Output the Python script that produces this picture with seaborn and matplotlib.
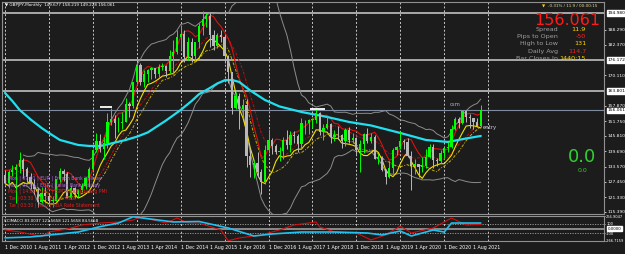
import numpy as np
import pandas as pd
import matplotlib
matplotlib.use("Agg")
import matplotlib.pyplot as plt
import seaborn as sns
from matplotlib.transforms import blended_transform_factory

# ---------------- data ----------------
months = pd.date_range("2010-12-01", "2021-10-01", freq="MS")
O = [130.0, 126.9, 131.4, 132.0, 133.4, 136.2, 132.7, 129.5, 126.5, 124.6, 119.3, 122.8,
     121.7, 119.6, 120.0, 128.5, 131.7, 130.5, 120.8, 125.0, 122.6, 124.0, 125.8, 128.8,
     132.5, 140.0, 143.6, 140.5, 143.0, 151.5, 152.5, 150.8, 151.0, 151.5, 158.5, 157.8,
     167.3, 174.3, 167.4, 170.7, 172.0, 172.9, 170.5, 173.4, 173.6, 171.9, 177.8, 179.5,
     185.2, 186.7, 177.3, 183.3, 177.7, 183.3, 189.6, 192.4, 193.7, 186.1, 181.6, 186.0,
     185.4, 177.6, 171.4, 156.8, 161.7, 156.5, 158.3, 137.6, 134.2, 135.0, 131.5, 127.5,
     140.1, 144.1, 141.9, 139.5, 139.8, 144.3, 142.3, 146.1, 145.7, 142.7, 150.8, 150.8,
     152.1, 152.3, 154.9, 147.3, 149.1, 150.5, 145.5, 146.3, 146.0, 143.9, 148.1, 144.2,
     144.9, 140.0, 142.7, 146.7, 143.9, 145.4, 136.5, 137.5, 132.2, 129.3, 132.9, 140.0,
     141.5, 143.9, 143.5, 137.6, 133.6, 134.7, 133.3, 133.7, 137.4, 141.3, 136.3, 135.6,
     139.0, 141.1, 141.2, 148.6, 152.6, 150.9, 155.6, 153.5, 152.8, 151.4, 149.677]
H = [132.0, 132.2, 134.0, 134.5, 139.2, 137.0, 133.2, 131.0, 128.5, 125.5, 125.5, 125.5,
     122.5, 121.8, 128.5, 133.0, 132.5, 131.2, 126.0, 125.5, 124.5, 127.0, 129.2, 133.5,
     140.5, 147.0, 146.5, 145.5, 155.0, 157.0, 154.0, 153.5, 155.5, 161.0, 159.5, 167.5,
     174.8, 175.0, 172.0, 172.5, 173.5, 173.0, 174.5, 175.0, 174.3, 180.0, 184.0, 188.0,
     190.0, 188.0, 185.5, 185.0, 183.5, 191.0, 195.9, 194.8, 195.3, 188.0, 187.0, 188.0,
     186.2, 178.0, 171.5, 163.5, 163.0, 160.5, 160.5, 141.0, 136.0, 139.5, 132.5, 142.0,
     148.5, 145.0, 142.5, 141.5, 145.5, 148.0, 147.8, 147.7, 146.5, 152.8, 152.0, 152.5,
     153.0, 156.6, 155.5, 150.5, 153.8, 151.0, 148.0, 149.7, 146.5, 149.0, 149.5, 147.0,
     145.5, 144.0, 147.0, 148.8, 147.0, 146.3, 138.5, 137.8, 132.5, 135.6, 140.8, 141.6,
     147.9, 144.5, 144.9, 139.8, 136.5, 134.7, 137.5, 140.5, 142.5, 142.5, 137.0, 140.0,
     141.5, 143.5, 150.0, 153.4, 153.2, 155.5, 156.1, 154.5, 153.0, 153.0, 158.219]
L = [126.8, 125.0, 129.8, 119.0, 131.0, 129.0, 127.5, 124.5, 122.5, 117.4, 118.8, 119.5,
     118.8, 117.3, 119.8, 127.5, 127.8, 121.0, 120.6, 120.8, 121.5, 123.5, 124.5, 125.5,
     131.5, 139.5, 139.5, 136.5, 141.0, 150.0, 145.0, 147.5, 148.5, 151.5, 153.5, 157.0,
     166.5, 166.0, 165.5, 167.5, 168.5, 169.0, 169.5, 172.0, 169.5, 171.0, 170.5, 178.5,
     180.0, 175.5, 176.0, 175.5, 175.5, 181.0, 186.0, 189.5, 181.5, 180.0, 181.0, 183.5,
     175.0, 166.8, 154.5, 156.5, 148.5, 153.0, 133.3, 129.5, 129.0, 129.2, 122.4, 126.5,
     139.0, 138.5, 138.5, 135.6, 136.5, 140.5, 139.3, 143.0, 139.3, 140.5, 146.5, 146.5,
     149.0, 151.0, 146.0, 144.0, 148.5, 142.8, 143.8, 144.5, 140.8, 141.8, 142.8, 143.0,
     138.5, 131.5, 139.0, 142.8, 143.0, 136.5, 134.5, 131.6, 126.5, 129.0, 131.0, 138.0,
     140.5, 140.5, 137.5, 124.0, 130.5, 129.3, 131.5, 133.0, 137.0, 133.0, 133.8, 135.0,
     137.0, 139.5, 140.9, 148.2, 149.0, 150.5, 151.4, 149.0, 148.5, 149.2, 149.228]
C = [126.9, 131.4, 132.0, 133.4, 136.2, 132.7, 129.5, 126.5, 124.6, 119.3, 122.8, 121.7,
     119.6, 120.0, 128.5, 131.7, 130.5, 120.8, 125.0, 122.6, 124.0, 125.8, 128.8, 132.5,
     140.0, 143.6, 140.5, 143.0, 151.5, 152.5, 150.8, 151.0, 151.5, 158.5, 157.8, 167.3,
     174.3, 167.4, 170.7, 172.0, 172.9, 170.5, 173.4, 173.6, 171.9, 177.8, 179.5, 185.2,
     186.7, 177.3, 183.3, 177.7, 183.3, 189.6, 192.4, 193.7, 186.1, 181.6, 186.0, 185.4,
     177.6, 171.4, 156.8, 161.7, 156.5, 158.3, 137.6, 134.2, 135.0, 131.5, 127.5, 140.1,
     144.1, 141.9, 139.5, 139.8, 144.3, 142.3, 146.1, 145.7, 142.7, 150.8, 150.8, 152.1,
     152.3, 154.9, 147.3, 149.1, 150.5, 145.5, 146.3, 146.0, 143.9, 148.1, 144.2, 144.9,
     140.0, 142.7, 146.7, 143.9, 145.4, 136.5, 137.5, 132.2, 129.3, 132.9, 140.0, 141.5,
     143.9, 143.5, 137.6, 133.6, 134.7, 133.3, 133.7, 137.4, 141.3, 136.3, 135.6, 139.0,
     141.1, 141.2, 148.6, 152.6, 150.9, 155.6, 153.5, 152.8, 151.4, 149.7, 156.061]

# long moving average (cyan), read at sparse months
ma_idx = [0, 2, 4, 7, 10, 12, 15, 20, 23, 26, 29, 33, 36, 39, 44, 48, 51, 53, 56, 58, 60, 62, 64, 67, 71, 75,
          81, 88, 94, 100, 108, 115, 121, 126, 130]
ma_val = [163.0, 159.8, 156.2, 152.4, 149.0, 147.0, 144.2, 142.2, 141.8, 141.8, 142.8, 144.2, 145.5, 147.2,
          152.0, 156.2, 159.8, 162.5, 165.0, 166.8, 168.0, 168.2, 167.4, 164.0, 160.2, 157.6,
          155.4, 153.4, 151.4, 150.0, 147.0, 144.2, 143.4, 144.8, 145.8]

# CCI sub-window (two series), read at sparse months
cci1_idx = [0, 7, 15, 20, 26, 31, 35, 40, 44, 46, 53, 61, 68, 73, 81, 90, 99, 103, 108, 111, 114, 117, 120, 122, 126, 130]
cci1_val = [-200, -180, -117, -75, 40, 117, 250, 200, 160, 139, 150, 11, -160, -117, -75, -75, -96, -138, -53, -160,
            -96, -32, -75, 117, 117, 117]
cci2_idx = [0, 4, 8, 10, 12, 17, 21, 26, 31, 35, 37, 44, 47, 50, 53, 59, 61, 64, 70, 75, 79, 85, 86, 90, 96, 100,
            104, 108, 111, 117, 121, 122, 126, 130]
cci2_val = [-32, -74, -138, -181, -74, -11, 75, 117, 139, 181, 245, 117, 224, 117, 117, -32, -260, -202, -138, -32,
            75, 139, 32, -74, -96, -245, -138, 53, -96, 11, 181, 224, 75, 84]

price_ticks = [188.290, 182.370, 170.110, 157.870, 151.750, 145.810, 139.690, 133.570, 127.450, 121.330, 115.390]
level_lines = [194.980, 176.172, 163.801]
bid = 156.061
time_idx = list(range(0, 131, 8))
time_labels = ["1 " + m.strftime("%b %Y") for m in months[time_idx]]

events = ["Mon | 07:01 | EUR | French Bank Holiday",
          "Mon | 07:03 | EUR | Italian Bank Holiday",
          "Mon | 14:00 | USD | ISM Manufacturing PMI",
          "Tue | 03:30 | AUD | Cash Rate",
          "Tue | 03:30 | AUD | RBA Rate Statement"]
info_labels = ["Spread", "Pips to Open", "High to Low", "Daily Avg", "Bar Closes In"]
info_values = ["11.9", "-50", "131", "114.7", "1440:15"]

# ---------------- style ----------------
sns.set_theme(style="dark")
plt.rcParams['font.family'] = ['DejaVu Sans']
BG = '#1c1c1c'
BULL = '#00ff00'
BEAR = '#b8b8b8'
GRID = '#c8c8c8'
W, Hh = 625, 254

fig = plt.figure(figsize=(6.25, 2.54), dpi=100, facecolor=BG)


def rect(x0, y0, x1, y1):
    return [x0 / W, 1 - y1 / Hh, (x1 - x0) / W, (y1 - y0) / Hh]


ax = fig.add_axes(rect(2, 2, 604, 214))
ax2 = fig.add_axes(rect(2, 216, 604, 241))


def px_to_i(px):
    return (px - 5) / 3.66


for a in (ax, ax2):
    a.set_facecolor(BG)
    a.set_xlim(px_to_i(2), px_to_i(604))
    for s in a.spines.values():
        s.set_color('#909090')
        s.set_linewidth(0.8)
    a.grid(False)
    for gi in range(0, 140, 12):
        a.axvline(gi, color=GRID, lw=0.7, ls=(0, (2, 2)), zorder=1)

ax.set_ylim(115.39 - 2 * 0.4, 194.98 + 11 * 0.4)

df = pd.DataFrame(dict(i=np.arange(len(C)), O=O, H=H, L=L, C=C))
up = df.C >= df.O
cols = np.where(up, BULL, BEAR)

# indicator lines (drawn under candles)
roll = df.assign(
    mid=df.C.rolling(20, min_periods=6).mean(),
    sd=df.C.rolling(20, min_periods=6).std(),
    rh=df.H.rolling(4, min_periods=1).mean(),
    rl=df.L.rolling(4, min_periods=1).mean(),
    rc=df.C.rolling(10, min_periods=1).mean(),
    rl2=df.L.rolling(8, min_periods=1).mean(),
)
roll['up'] = roll.mid + 2 * roll.sd
roll['dn'] = roll.mid - 2 * roll.sd
sns.lineplot(data=roll, x='i', y='up', ax=ax, color='#8c8c8c', lw=0.7, zorder=2)
sns.lineplot(data=roll, x='i', y='dn', ax=ax, color='#8c8c8c', lw=0.7, zorder=2)
sns.lineplot(data=roll, x='i', y='rc', ax=ax, color='#c01010', lw=0.7, ls=(0, (3, 1.5, 1, 1.5)), zorder=3)
sns.lineplot(data=roll, x='i', y='rl2', ax=ax, color='#c8b000', lw=0.7, ls=(0, (3, 1.5, 1, 1.5)), zorder=3)
sns.lineplot(data=roll, x='i', y='rh', ax=ax, color='#e01010', lw=0.8, zorder=3)
sns.lineplot(data=roll, x='i', y='rl', ax=ax, color='#f0e000', lw=0.8, zorder=3)
sns.lineplot(x=ma_idx, y=ma_val, ax=ax, color='#20e0f0', lw=1.6, zorder=4)

ax.vlines(df.i, df.L, df.H, colors=cols, lw=0.7, zorder=5)
ax.bar(df.i, (df.C - df.O).abs().clip(lower=0.35), bottom=np.minimum(df.O, df.C), width=0.62,
       color=cols, lw=0, zorder=6)

for lv in level_lines:
    ax.axhline(lv, color='#a8a8a8', lw=1.4, zorder=1)
ax.axhline(bid, color='#7f8ca0', lw=0.8, zorder=1)
ax.hlines(157.4, px_to_i(100), px_to_i(112), color='white', lw=1.3, zorder=7)
ax.hlines(156.6, px_to_i(310), px_to_i(325), color='white', lw=1.3, zorder=7)

# price scale
ax.yaxis.tick_right()
ax.set_yticks(price_ticks)
ax.set_yticklabels([f"{v:.3f}" for v in price_ticks])
ax.tick_params(axis='y', colors='white', labelsize=3.2, length=1.5, width=0.5, pad=1)
ax.set_xticks([])
ax.set_xlabel('')
ax.set_ylabel('')
trans = blended_transform_factory(ax.transAxes, ax.transData)
for lv in level_lines + [bid]:
    ax.text(1.006, lv, f"{lv:.3f}", transform=trans, fontsize=3.2, color='black', va='center', ha='left',
            bbox=dict(boxstyle='square,pad=0.15', fc='white', ec='white'), clip_on=False, zorder=10)

# lower pane
ax2.set_ylim(-266.7159, 266.9047)
ax2.axhline(0, color='#8a8a8a', lw=1.4, zorder=1)
for lv in (100, -100):
    ax2.axhline(lv, color='#a0a0a0', lw=0.6, ls=(0, (1.5, 1.5)), zorder=1)
sns.lineplot(x=cci2_idx, y=cci2_val, ax=ax2, color='#d01010', lw=0.8, zorder=3)
sns.lineplot(x=cci1_idx, y=cci1_val, ax=ax2, color='#20c0f0', lw=1.2, zorder=4)
ax2.yaxis.tick_right()
ax2.set_yticks([266.9047, 100, -100, -266.7159])
ax2.set_yticklabels(["266.9047", "100", "-100", "-266.7159"])
ax2.tick_params(axis='y', colors='white', labelsize=2.6, length=1.0, width=0.5, pad=0.6)
trans2 = blended_transform_factory(ax2.transAxes, ax2.transData)
ax2.text(1.006, 0, "0.0000", transform=trans2, fontsize=2.8, color='black', va='center', ha='left',
         bbox=dict(boxstyle='square,pad=0.15', fc='white', ec='white'), clip_on=False, zorder=10)
ax2.set_xticks(time_idx)
ax2.set_xticklabels(time_labels, ha='left')
ax2.tick_params(axis='x', colors='white', labelsize=3.4, length=2, width=0.5, pad=1.0)
ax2.set_xlabel('')
ax2.set_ylabel('')
ax2.text(0.004, 0.82, "CCIMACCI 83.0037 121.5658 121.5658 84.5658", transform=ax2.transAxes,
         fontsize=2.9, color='white', va='center', ha='left')

# texts
fig.text(5 / W, 1 - 5 / Hh, "▼ GBPJPY,Monthly  149.677 158.219 149.228 156.061", fontsize=3.0,
         color='white', va='center', ha='left')
fig.text(545 / W, 1 - 6 / Hh, "▼", fontsize=3.0, color='#ffd700', va='center', ha='right')
fig.text(548 / W, 1 - 6 / Hh, "-0.31% / 11.9 / 00:00:15", fontsize=3.0, color='#e8e0a0', va='center', ha='left')
fig.text(567 / W, 1 - 20.5 / Hh, "156.061", fontsize=11.5, color='#ff1a1a', va='center', ha='center')
info_cols = ['#ffd700', '#ff2020', '#ffd700', '#ff2020', '#ffd700']
for k, (lab, val, col) in enumerate(zip(info_labels, info_values, info_cols)):
    yy = 1 - (29.5 + 7.2 * k) / Hh
    fig.text(558 / W, yy, lab, fontsize=4.6, color='#a0a0a0', va='center', ha='right')
    fig.text(586 / W, yy, val, fontsize=4.6, color=col, va='center', ha='right')

fig.text(582 / W, 1 - 157 / Hh, "0.0", fontsize=13, color='#30d030', va='center', ha='center')
fig.text(582 / W, 1 - 170 / Hh, "0.0", fontsize=4.5, color='#30d030', va='center', ha='center')
fig.text(455 / W, 1 - 105 / Hh, "csm", fontsize=3.8, color='#b0b0d0', va='center', ha='center')
fig.text(490 / W, 1 - 128 / Hh, "entry", fontsize=3.8, color='#d0d0e0', va='center', ha='center')

ev_cols = ['#b070e0', '#b070e0', '#e02020', '#e02020', '#e02020']
for k, (ev, col) in enumerate(zip(events, ev_cols)):
    fig.text(8 / W, 1 - (178 + 6.8 * k) / Hh, ev, fontsize=3.3, color=col, va='center', ha='left')

fig.savefig("out.png", dpi=100, facecolor=BG)
